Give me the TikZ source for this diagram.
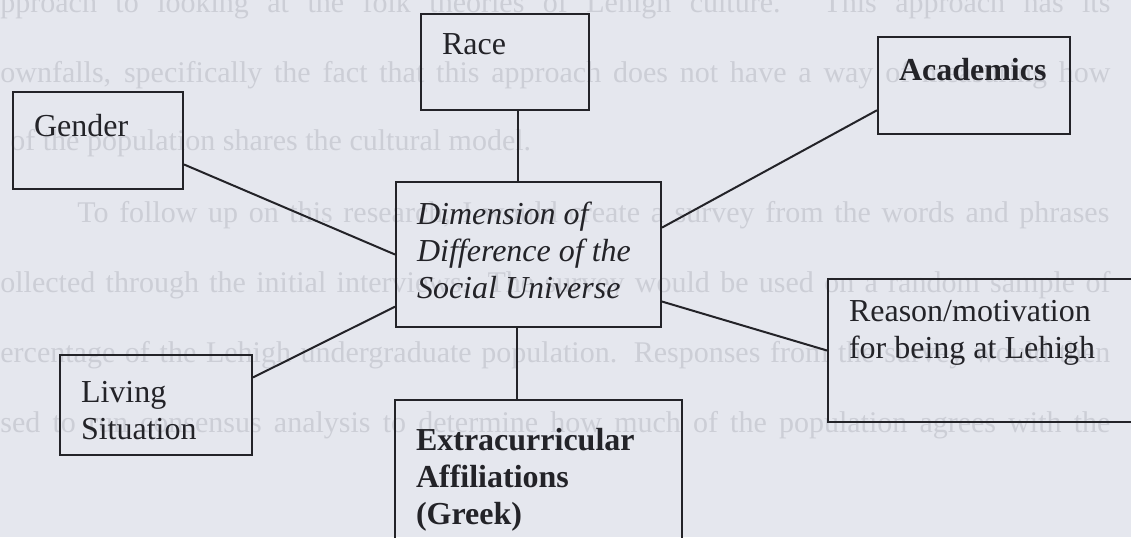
\documentclass[tikz,border=0pt]{standalone}
\usepackage{fontspec}
\setmainfont{Liberation Serif}
\usetikzlibrary{calc}
\definecolor{paper}{RGB}{229,231,238}
\definecolor{ghost}{RGB}{204,206,214}
\definecolor{ink}{RGB}{35,35,40}
\newcommand{\boxtext}[3]{\parbox[t][#2][t]{#1}{#3}}

\begin{document}
\begin{tikzpicture}[x=0.5pt, y=-0.5pt,
        dimbox/.style={draw=ink, line width=1pt, anchor=north west, inner xsep=10.5pt, text=ink, font=\fontsize{16}{18.5}\selectfont},
        link/.style={draw=ink, line width=1pt},
        ghostline/.style={anchor=base west, inner sep=0pt, text=ghost, font=\fontsize{15}{18}\selectfont}]
        \fill[paper] (0,0) rectangle (1131,537);
        \useasboundingbox (0,0) rectangle (1131,537);
        % faint text of the page behind
        \node[ghostline] (bg1) at (0,12) {\makebox[555pt][s]{pproach to looking at the folk theories of Lehigh culture. This approach has its}};
        \node[ghostline] (bg2) at (0,82) {\makebox[555pt][s]{ownfalls, specifically the fact that this approach does not have a way of measuring how}};
        \node[ghostline] (bg3) at (10,150) {of the population shares the cultural model.};
        \node[ghostline] (bg4) at (77,222) {\makebox[516pt][s]{To follow up on this research, I would create a survey from the words and phrases}};
        \node[ghostline] (bg5) at (0,292) {\makebox[555pt][s]{ollected through the initial interviews. The survey would be used on a random sample of}};
        \node[ghostline] (bg6) at (0,362) {\makebox[555pt][s]{ercentage of the Lehigh undergraduate population. Responses from the survey would then}};
        \node[ghostline] (bg7) at (0,432) {\makebox[555pt][s]{sed to run consensus analysis to determine how much of the population agrees with the}};
        % boxes
        \node[dimbox, inner ysep=10pt] (race) at (420,13) {\boxtext{63pt}{28pt}{Race}};
        \node[dimbox, inner ysep=11pt] (gender) at (12,91) {\boxtext{64pt}{26.5pt}{Gender}};
        \node[dimbox, inner ysep=10.5pt] (acad) at (877,36) {\boxtext{75pt}{27.5pt}{\bfseries Academics}};
        \node[dimbox, inner ysep=10pt] (cen) at (395,181) {\boxtext{111.5pt}{52.5pt}{\itshape Dimension of\\ Difference of the\\ Social Universe}};
        \node[dimbox, inner ysep=10.5pt] (reason) at (827,278) {\boxtext{135.5pt}{50.5pt}{Reason/motivation\\ for being at Lehigh}};
        \node[dimbox, inner ysep=13pt] (living) at (59,354) {\boxtext{75pt}{24pt}{Living\\ Situation}};
        \node[dimbox, inner ysep=14pt] (extra) at (394,399) {\boxtext{122.5pt}{57.5pt}{\bfseries Extracurricular\\ Affiliations\\ (Greek)}};
        % connectors
        \coordinate (racefoot) at ($(race.south west)!0.577!(race.south east)$);
        \coordinate (cenfoot) at ($(cen.south west)!0.457!(cen.south east)$);
        \draw[link] (racefoot) -- (racefoot |- cen.north);
        \draw[link] ($(gender.north east)!0.742!(gender.south east)$) -- (cen.west);
        \draw[link] ($(acad.north west)!0.75!(acad.south west)$) -- ($(cen.north east)!0.317!(cen.south east)$);
        \draw[link] ($(living.north east)!0.23!(living.south east)$) -- ($(cen.north west)!0.855!(cen.south west)$);
        \draw[link] (reason.west) -- ($(cen.north east)!0.82!(cen.south east)$);
        \draw[link] (cenfoot) -- (cenfoot |- extra.north);
\end{tikzpicture}
\end{document}
